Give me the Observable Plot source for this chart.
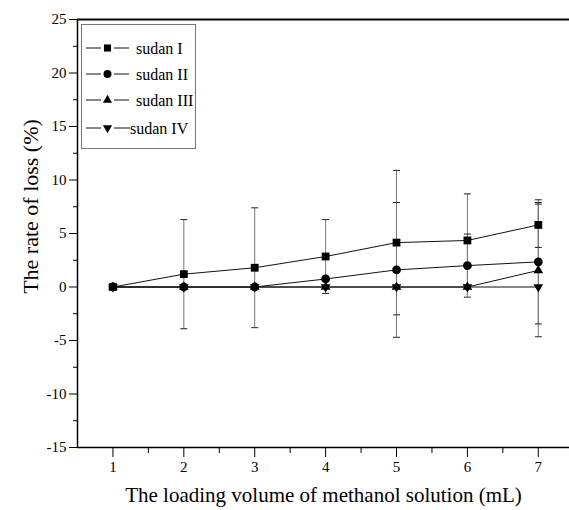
<!DOCTYPE html>
<html>
<head>
<meta charset="utf-8">
<script src="https://cdn.jsdelivr.net/npm/d3@7"></script>
<script src="https://cdn.jsdelivr.net/npm/@observablehq/plot@0.6"></script>
<style>
  html, body { margin: 0; padding: 0; background: #fff; }
  #wrap { position: relative; width: 569px; height: 510px; }
  #legend { position: absolute; left: 0; top: 0; pointer-events: none; }
</style>
</head>
<body>
<div id="wrap"></div>
<script>
// ---- data ----
const volumes = [1, 2, 3, 4, 5, 6, 7];
const seriesNames = ["sudan I", "sudan II", "sudan III", "sudan IV"];
const sudanI      = [0, 1.2, 1.8, 2.85, 4.15, 4.35, 5.8];
const sudanIErr   = [0, 5.1, 5.6, 3.45, 6.75, 4.35, 2.1];
const sudanII     = [0, 0, 0, 0.75, 1.6, 2.0, 2.35];
const sudanIIErr  = [0, 0, 0, 0, 6.3, 2.95, 5.8];
const sudanIII    = [0, 0, 0, 0, 0, 0, 1.55];
const sudanIIIErr = [0, 0, 0, 0, 0, 0, 6.2];
const sudanIV     = [0, 0, 0, 0, 0, 0, 0];
const sudanIVErr  = [0, 0, 0, 0, 0, 0, 0];
const yMajorTicks = [-15, -10, -5, 0, 5, 10, 15, 20, 25];
const yMinorTicks = [-12.5, -7.5, -2.5, 2.5, 7.5, 12.5, 17.5, 22.5];
const xMajorTicks = [1, 2, 3, 4, 5, 6, 7];
const xMinorTicks = [1.5, 2.5, 3.5, 4.5, 5.5, 6.5];
const xDomain = [0.5, 7.44];
const yDomain = [-15, 25];
const xTitle = "The loading volume of methanol solution (mL)";
const yTitle = "The rate of loss (%)";

const values = [sudanI, sudanII, sudanIII, sudanIV];
const errors = [sudanIErr, sudanIIErr, sudanIIIErr, sudanIVErr];
const rows = [];
seriesNames.forEach((s, i) => volumes.forEach((x, j) => rows.push({series: s, x, y: values[i][j], err: errors[i][j]})));
const errRows = rows.filter(d => d.err > 0);

const capSymbol = {
  draw(ctx, size) { const h = Math.sqrt(size / Math.PI); ctx.moveTo(-h, 0); ctx.lineTo(h, 0); }
};
const symbolOf = {"sudan I": "square", "sudan II": "circle", "sudan III": "triangle", "sudan IV": "triangle"};
const rOf = {"sudan I": 4.4, "sudan II": 4.4, "sudan III": 3.6, "sudan IV": 3.6};

const font = "Liberation Serif, Times New Roman, serif";

const chart = Plot.plot({
  width: 569,
  height: 510,
  marginLeft: 77,
  marginRight: 0,
  marginTop: 19,
  marginBottom: 63,
  style: {fontFamily: font, fontSize: "15px", color: "#000", background: "#fff", overflow: "visible"},
  x: {domain: xDomain},
  y: {domain: yDomain},
  marks: [
    // error bars
    Plot.ruleX(errRows, {x: "x", y1: d => d.y - d.err, y2: d => d.y + d.err, stroke: "#777", strokeWidth: 1}),
    Plot.dot(errRows, {x: "x", y: d => d.y + d.err, symbol: capSymbol, r: 3.5, stroke: "#222", strokeWidth: 1}),
    Plot.dot(errRows, {x: "x", y: d => d.y - d.err, symbol: capSymbol, r: 3.5, stroke: "#222", strokeWidth: 1}),
    // series lines
    Plot.line(rows, {x: "x", y: "y", z: "series", stroke: "#111", strokeWidth: 1}),
    // markers
    ...seriesNames.map(s => Plot.dot(rows.filter(d => d.series === s), {
      x: "x", y: "y", symbol: symbolOf[s], r: rOf[s], fill: "#000", stroke: "none",
      rotate: s === "sudan IV" ? 180 : 0
    })),
    // axes
    Plot.axisY({ticks: yMajorTicks, tickSize: 8, tickPadding: 3, tickFormat: d => String(d), label: null, fontSize: 15, fill: "#000"}),
    Plot.axisY({ticks: yMinorTicks, tickSize: 4, tickFormat: () => "", label: null}),
    Plot.axisX({ticks: xMajorTicks, tickSize: 10, tickPadding: 4, tickFormat: d => String(d), label: null, fontSize: 15, fill: "#000"}),
    Plot.axisX({ticks: xMinorTicks, tickSize: 6, tickFormat: () => "", label: null}),
    Plot.ruleX([xDomain[0]], {stroke: "#000", strokeWidth: 1.5}),
    Plot.ruleY([yDomain[0]], {stroke: "#000", strokeWidth: 1.5}),
    Plot.ruleY([yDomain[1]], {stroke: "#000", strokeWidth: 2}),
    // titles
    Plot.text([xTitle], {frameAnchor: "bottom", textAnchor: "middle", dy: 54, fontSize: 21, fill: "#000"}),
    Plot.text([yTitle], {frameAnchor: "left", textAnchor: "middle", rotate: -90, dx: -47, dy: -27, fontSize: 22, fill: "#000"})
  ]
});
const wrap = document.getElementById("wrap");
wrap.appendChild(chart);

// ---- legend overlay ----
const lg = d3.select(wrap).append("svg").attr("id", "legend").attr("width", 569).attr("height", 510);
lg.append("rect").attr("x", 81.5).attr("y", 24.5).attr("width", 114).attr("height", 124)
  .attr("fill", "#fff").attr("stroke", "#777").attr("stroke-width", 1);
const legendY = [48, 74, 100, 128];
const legendSym = [d3.symbolSquare, d3.symbolCircle, d3.symbolTriangle, d3.symbolTriangle];
const legendSize = [Math.PI * 4.0 * 4.0, Math.PI * 4.0 * 4.0, Math.PI * 3.4 * 3.4, Math.PI * 3.4 * 3.4];
seriesNames.forEach((s, i) => {
  const g = lg.append("g").attr("transform", `translate(0,${legendY[i]})`);
  g.append("line").attr("x1", 86).attr("x2", 101).attr("y1", 0).attr("y2", 0).attr("stroke", "#111");
  g.append("line").attr("x1", 114).attr("x2", i === 3 ? 130 : 129).attr("y1", 0).attr("y2", 0).attr("stroke", "#111");
  g.append("path").attr("d", d3.symbol(legendSym[i], legendSize[i])())
    .attr("transform", `translate(107.5,0)${i === 3 ? " rotate(180)" : ""}`).attr("fill", "#000");
  g.append("text").attr("x", i === 3 ? 130 : 136).attr("y", 0).attr("dy", "0.35em")
    .attr("font-family", font).attr("font-size", 16).attr("fill", "#000").text(s);
});
</script>
</body>
</html>
